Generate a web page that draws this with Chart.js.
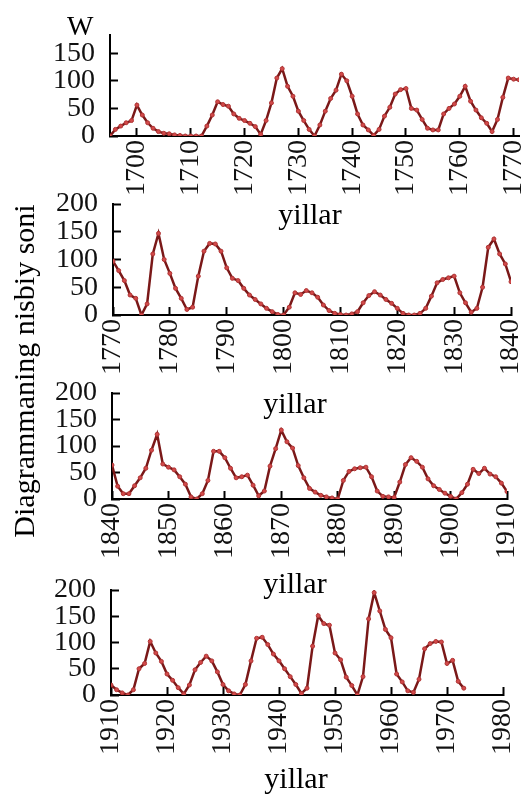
<!DOCTYPE html>
<html>
<head>
<meta charset="utf-8">
<script src="https://cdn.jsdelivr.net/npm/chart.js@4.4.1/dist/chart.umd.min.js"></script>
<style>
  body { margin: 0; background: #fff; }
  #wrap { position: relative; width: 524px; height: 798px; overflow: hidden; font-family: "Liberation Serif", serif; color: #000; }
  canvas { position: absolute; left: 0; }
  .txt { position: absolute; font-size: 30px; line-height: 30px; white-space: nowrap; }
</style>
</head>
<body>
<div id="wrap">
  <canvas id="c1" width="524" height="206" style="top:0px"></canvas>
  <canvas id="c2" width="524" height="200" style="top:185px"></canvas>
  <canvas id="c3" width="524" height="194" style="top:375px"></canvas>
  <canvas id="c4" width="524" height="193" style="top:572px"></canvas>

  <div class="txt" style="left:67px; top:12px; font-size:28px; line-height:28px;">W</div>
  <div class="txt" style="left:210px; top:199px; width:200px; text-align:center;">yillar</div>
  <div class="txt" style="left:195px; top:388px; width:200px; text-align:center;">yillar</div>
  <div class="txt" style="left:195px; top:568px; width:200px; text-align:center;">yillar</div>
  <div class="txt" style="left:196px; top:763px; width:200px; text-align:center;">yillar</div>
  <div class="txt" style="left:-146px; top:356px; width:340px; text-align:center; transform:rotate(-90deg);">Diagrammaning nisbiy soni</div>
</div>

<script>
// yillar (x) va nisbiy son (y), to'rt bo'lak
function yearsFrom(a, b) { var r = []; for (var y = a; y <= b; y++) r.push(y); return r; }

var years1 = yearsFrom(1695, 1771);
var wolf1 = [0, 12, 18, 24, 28, 56, 38, 24, 14, 8,
             5, 4, 2, 1, 0, 0, 0, 0, 18, 38,
             62, 57, 54, 40, 32, 28, 23, 17, 3, 28,
             60, 105, 122, 90, 72, 45, 28, 12, 0, 20,
             45, 68, 83, 112, 100, 72, 40, 20, 11, 1,
             12, 36, 52, 76, 84, 86, 50, 47, 30, 14,
             11, 11, 40, 50, 58, 72, 90, 63, 47, 33,
             23, 8, 30, 70, 105, 103, 102];
var xTicks1 = [1700, 1710, 1720, 1730, 1740, 1750, 1760, 1770];

var years2 = yearsFrom(1770, 1840);
var wolf2 = [97, 80, 62, 36, 30, 0, 20, 110, 147, 100,
             75, 48, 30, 10, 14, 70, 115, 129, 128, 115,
             85, 66, 62, 48, 36, 28, 20, 12, 6, 1,
             0, 14, 40, 37, 44, 40, 32, 18, 8, 3,
             1, 0, 2, 6, 22, 35, 42, 36, 28, 21,
             12, 3, 0, 0, 3, 12, 34, 58, 64, 67,
             70, 40, 22, 5, 12, 50, 122, 137, 110, 92,
             60];
var xTicks2 = [1770, 1780, 1790, 1800, 1810, 1820, 1830, 1840];

var years3 = yearsFrom(1840, 1910);
var wolf3 = [64, 24, 10, 10, 25, 40, 58, 92, 122, 66,
             60, 55, 42, 28, 4, 0, 10, 35, 90, 90,
             78, 58, 40, 42, 45, 26, 6, 15, 62, 95,
             130, 108, 96, 63, 40, 20, 13, 7, 4, 2,
             0, 35, 52, 57, 59, 60, 42, 15, 5, 4,
             3, 32, 65, 78, 71, 60, 38, 25, 18, 11,
             5, 0, 12, 28, 56, 48, 58, 47, 42, 30,
             14];
var xTicks3 = [1840, 1850, 1860, 1870, 1880, 1890, 1900, 1910];

var years4 = yearsFrom(1910, 1973);
var wolf4 = [19, 10, 4, 0, 10, 50, 60, 102, 80, 64,
             40, 28, 14, 2, 19, 48, 62, 74, 65, 44,
             20, 8, 2, 0, 20, 65, 108, 110, 96, 78,
             65, 50, 35, 20, 3, 13, 93, 151, 136, 133,
             80, 67, 34, 18, 0, 35, 145, 195, 160, 125,
             109, 40, 25, 8, 5, 30, 88, 98, 102, 101,
             60, 66, 26, 13];
var xTicks4 = [1910, 1920, 1930, 1940, 1950, 1960, 1970, 1980];

var yTicksShort = [0, 50, 100, 150];
var yTicksFull = [0, 50, 100, 150, 200];

var serif = '"Liberation Serif", "Times New Roman", serif';
var lineColor = '#7a1818';
var dotColor = '#d24a4a';

function makeChart(id, years, vals, xTicks, yTicks, box) {
    var pts = years.map(function (yr, i) { return { x: yr, y: vals[i] }; });
    return new Chart(document.getElementById(id), {
        type: 'line',
        data: {
            datasets: [{
                data: pts,
                borderColor: lineColor,
                borderWidth: 2.5,
                pointRadius: 2,
                pointBackgroundColor: dotColor,
                pointBorderColor: '#b03434',
                pointBorderWidth: 1,
                tension: 0
            }]
        },
        options: {
            responsive: false,
            animation: false,
            events: [],
            layout: { padding: { top: box.top, right: box.right, left: 0, bottom: 0 } },
            plugins: { legend: { display: false }, tooltip: { enabled: false } },
            scales: {
                x: {
                    type: 'linear',
                    min: Math.min(years[0], xTicks[0]),
                    max: Math.max(years[years.length - 1], xTicks[xTicks.length - 1]),
                    afterBuildTicks: function (s) { s.ticks = xTicks.map(function (v) { return { value: v }; }); },
                    afterFit: function (s) { s.height = 70; s.paddingLeft = 0; s.paddingRight = 0; },
                    border: { display: true, color: '#000', width: 2 },
                    grid: { drawOnChartArea: false, drawTicks: true, tickLength: -8, tickWidth: 2, tickColor: '#000' },
                    ticks: {
                        autoSkip: false, minRotation: 90, maxRotation: 90, padding: 12,
                        color: '#111', font: { family: serif, size: 28 },
                        callback: function (v) { return String(v); }
                    }
                },
                y: {
                    min: 0,
                    max: box.ymax,
                    afterBuildTicks: function (s) { s.ticks = yTicks.map(function (v) { return { value: v }; }); },
                    afterFit: function (s) { s.width = box.left; s.paddingTop = 0; s.paddingBottom = 0; },
                    border: { display: true, color: '#000', width: 2 },
                    grid: { drawOnChartArea: false, drawTicks: true, tickLength: -8, tickWidth: 2, tickColor: '#000' },
                    ticks: { autoSkip: false, padding: 23, color: '#111', font: { family: serif, size: 28 } }
                }
            }
        }
    });
}

makeChart('c1', years1, wolf1, xTicks1, yTicksShort, { top: 35, left: 110, right: 5, ymax: 183 });
makeChart('c2', years2, wolf2, xTicks2, yTicksFull, { top: 19, left: 113, right: 13, ymax: 200 });
makeChart('c3', years3, wolf3, xTicks3, yTicksFull, { top: 18, left: 112, right: 17, ymax: 200 });
makeChart('c4', years4, wolf4, xTicks4, yTicksFull, { top: 18, left: 111, right: 21, ymax: 200 });
</script>
</body>
</html>
